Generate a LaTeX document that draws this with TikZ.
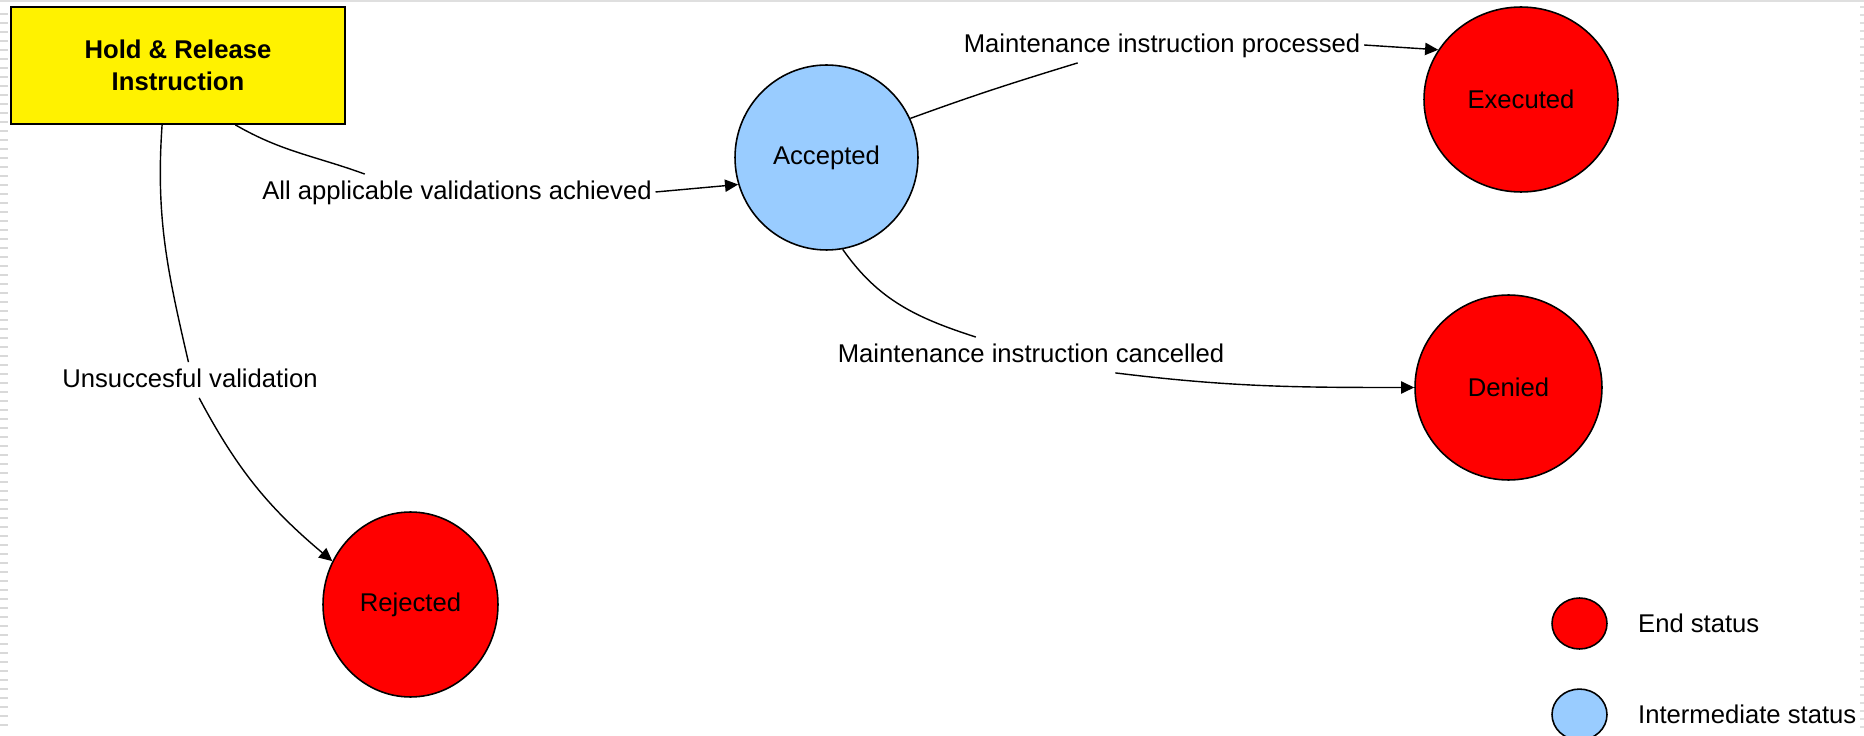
\documentclass[tikz,border=0pt]{standalone}
\usepackage{fontspec}
\setmainfont{Liberation Sans}
\usetikzlibrary{positioning, arrows.meta, shapes.geometric}
\definecolor{stateblue}{HTML}{99CCFF}
\newcommand\diagfont{\fontsize{14.6}{18.2}\selectfont}

\begin{document}
\begin{tikzpicture}[x=0.02cm, y=0.02cm, font=\diagfont,
    state/.style={ellipse, draw, line width=0.9pt, inner sep=0pt, minimum height=3.7cm},
    endstate/.style={state, fill=red},
    midstate/.style={state, fill=stateblue},
    lbl/.style={inner xsep=2pt, inner ysep=3pt, text height=11pt, text depth=3pt},
    link/.style={line width=0.8pt},
    arrowlink/.style={link, -{Triangle[length=7.5pt, width=7pt]}}]
                  \useasboundingbox (0,0) rectangle (1864,-736);

                  % Page edges
                  \draw [gray!25, line width=0.8pt] (0,-1) -- (1864,-1);
                  \foreach \y in {14,23,...,730} \draw [gray!30, line width=0.7pt] (0,-\y) -- (8,-\y);
                  \foreach \y in {7,15,...,730} \draw [gray!25, line width=0.7pt] (1860,-\y) -- (1864,-\y);

                  % Start
                  \node [draw, rectangle, fill=yellow, line width=1pt, align=center, minimum width=6.68cm, minimum height=2.34cm, font=\diagfont\bfseries] (hr) at (178,-65.5) {Hold \& Release\\Instruction};

                  % States
                  \node [midstate, minimum width=3.66cm] (acc) at (826.5,-157.5) {Accepted};
                  \node [endstate, minimum width=3.88cm] (exe) at (1521,-99.5) {Executed};
                  \node [endstate, minimum width=3.74cm] (den) at (1508.5,-387.5) {Denied};
                  \node [endstate, minimum width=3.5cm] (rej) at (410.5,-604.5) {Rejected};

                  % Transition labels
                  \node [lbl] (lblAll) at (457,-192) {All applicable validations achieved};
                  \node [lbl] (lblProc) at (1162,-45) {Maintenance instruction processed};
                  \node [lbl] (lblCanc) at (1031,-355) {Maintenance instruction cancelled};
                  \node [lbl] (lblUns) at (190,-380) {Unsuccesful validation};

                  % Transitions
                  \draw [link] (hr.-46) to[out=-30, in=160] (lblAll.169);
                  \draw [arrowlink] (lblAll.east) -- (acc.197);
                  \draw [link] (acc.25) to[out=20, in=197] (lblProc.192);
                  \draw [arrowlink] (lblProc.east) -- (exe.149);
                  \draw [link] (acc.-80) to[out=-55, in=162] (lblCanc.162);
                  \draw [arrowlink] (lblCanc.-12) to[out=-7, in=180] (den.180);
                  \draw [link] (hr.-105) to[out=-94, in=103] (lblUns.95);
                  \draw [arrowlink] (lblUns.-63) to[out=-62, in=140] (rej.151);

                  % Legend
                  \node [endstate, minimum width=1.1cm, minimum height=1.02cm] (legEnd) at (1579.5,-623.5) {};
                  \node [midstate, minimum width=1.1cm, minimum height=1.02cm, below=0.77cm of legEnd] (legMid) {};
                  \node [inner sep=0pt, right=0.6cm of legEnd] (txtEnd) {End status};
                  \node [inner sep=0pt, right=0.6cm of legMid] (txtMid) {Intermediate status};
              \end{tikzpicture}
\end{document}
